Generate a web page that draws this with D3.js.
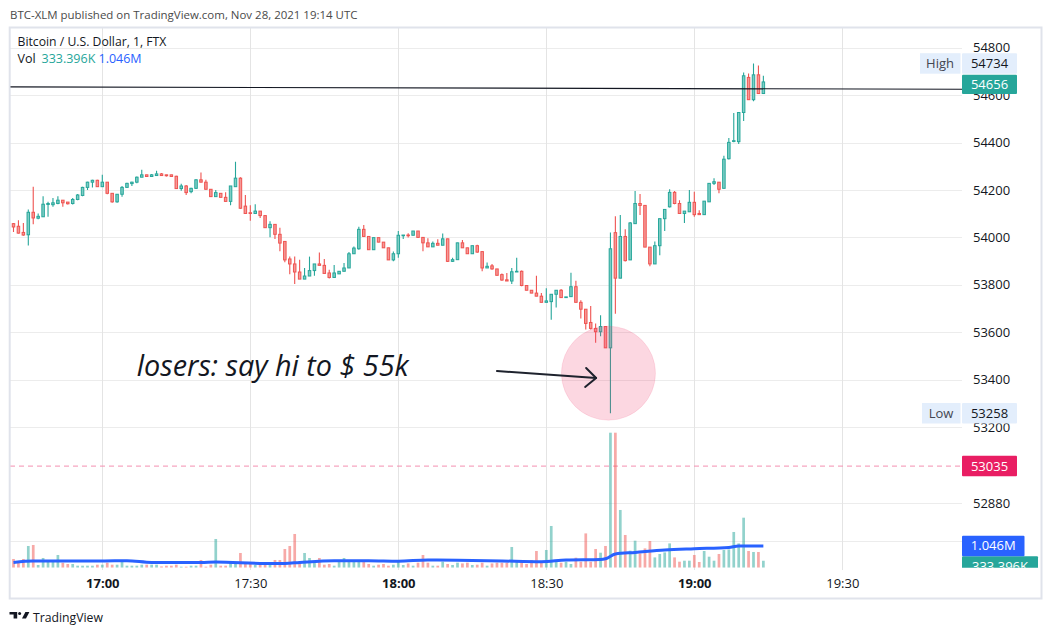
<!DOCTYPE html>
<html><head><meta charset="utf-8">
<script src="https://cdn.jsdelivr.net/npm/d3@7"></script>
<style>
body{margin:0;background:#fff;}
svg{display:block;font-family:"Open Sans",sans-serif;}
</style></head><body>
<svg id="c" width="1052" height="635"></svg>
<script>
// ---------- DATA ----------
const startTime = "2021-11-28T16:42:00Z"; // first 1-minute candle
const opens = [54058,54047,54021,54011,54106,54081,54087,54139,54138,54143, 54157,54149,54143,54160,54177,54211,54233,54241,54214,54233, 54186,54150,54182,54211,54227,54233,54254,54264,54257,54261, 54268,54264,54264,54258,54206,54217,54193,54207,54243,54233, 54203,54172,54186,54169,54152,54214,54250,54132,54104,54101, 54111,54092,54041,54055,54013,53983,53909,53888,53854,53824, 53837,53860,53888,53882,53850,53831,53846,53857,53871,53931, 53952,54034,54004,53948,53999,53980,53956,53905,53931,54007, 54010,54009,54027,54000,53977,53960,53975,53967,53994,53899, 53906,53977,53956,53931,53965,53940,53871,53880,53867,53843, 53821,53816,53854,53857,53797,53777,53765,53752,53726,53729, 53760,53777,53746,53750,53792,53726,53697,53641,53616,53602, 53624,53534,54020,53828,54004,53905,54058,54143,54135,53959, 53888,53965,54079,54129,54190,54143,54101,54108,54148,54101, 54096,54150,54228,54233,54207,54332,54405,54404,54527,54675, 54581,54686,54607];
const highs = [54061,54072,54061,54118,54214,54101,54174,54150,54166,54174, 54157,54149,54166,54183,54214,54235,54243,54243,54264,54233, 54186,54182,54217,54231,54235,54257,54285,54264,54268,54281, 54272,54264,54264,54260,54226,54221,54210,54245,54274,54243, 54203,54200,54186,54191,54217,54319,54254,54179,54136,54140, 54111,54092,54068,54055,54041,53983,53919,53919,53906,53871, 53919,53888,53936,53909,53864,53884,53857,53892,53938,53962, 54045,54052,54004,53999,53999,53980,53956,53941,54027,54010, 54018,54027,54027,54000,53996,53983,53992,54016,53994,53914, 53977,53989,53956,53965,53969,53940,53894,53888,53867,53848, 53850,53871,53914,53860,53797,53777,53838,53765,53785,53760, 53777,53782,53749,53851,53817,53735,53697,53711,53637,53672, 53624,54021,54089,54094,54034,54065,54196,54183,54135,53959, 53983,54079,54118,54203,54196,54157,54111,54200,54193,54115, 54153,54228,54250,54233,54345,54419,54525,54527,54696,54692, 54734,54725,54682];
const lows = [54023,54016,54007,53966,54055,54077,54087,54087,54129,54140, 54129,54139,54139,54157,54174,54200,54211,54214,54214,54182, 54146,54146,54172,54211,54217,54228,54254,54257,54257,54261, 54261,54257,54257,54206,54197,54179,54186,54204,54233,54203, 54172,54172,54169,54152,54136,54214,54121,54101,54070,54101, 54082,54041,54001,53993,53942,53895,53845,53803,53824,53824, 53837,53838,53882,53848,53827,53831,53846,53857,53871,53931, 53948,54004,53948,53948,53980,53956,53905,53899,53914,53993, 54000,54009,54000,53942,53960,53960,53967,53967,53896,53896, 53906,53956,53931,53931,53935,53857,53871,53863,53840,53817, 53816,53803,53854,53794,53777,53765,53752,53726,53726,53653, 53704,53746,53746,53750,53726,53658,53611,53611,53555,53583, 53534,53258,53678,53828,53898,53905,54058,54094,53959,53878, 53888,53925,54027,54126,54140,54101,54061,54108,54087,54096, 54096,54150,54221,54186,54207,54329,54402,54394,54491,54581, 54574,54607,54607];
const closes = [54044,54018,54010,54106,54082,54089,54140,54143,54146,54157, 54146,54142,54160,54179,54211,54233,54241,54214,54233,54186, 54150,54182,54211,54228,54233,54254,54264,54257,54264,54268, 54261,54260,54257,54206,54217,54189,54207,54243,54233,54203, 54172,54189,54169,54152,54217,54250,54123,54101,54101,54111, 54092,54041,54055,54013,53976,53905,53888,53854,53824,53837, 53860,53888,53882,53848,53831,53850,53857,53871,53931,53955, 54034,54004,53948,53999,53980,53956,53905,53931,54009,54010, 54007,54027,54000,53977,53960,53975,53967,53994,53899,53906, 53977,53956,53931,53965,53938,53871,53878,53867,53840,53820, 53816,53855,53857,53797,53777,53765,53752,53726,53732,53760, 53777,53746,53749,53792,53726,53697,53637,53616,53602,53624, 53534,53952,53828,54004,53902,54061,54143,54135,53959,53888, 53965,54079,54118,54190,54143,54101,54111,54148,54096,54096, 54153,54228,54235,54203,54330,54401,54408,54527,54682,54581, 54686,54607,54656];
// volume in thousands
const volumes = [418,288,418,1042,1090,130,466,370,288,610, 240,178,178,96,96,96,96,144,144,240, 144,144,288,96,96,96,144,144,144,144, 62,96,96,144,48,48,96,96,370,48, 144,1378,96,96,240,240,706,240,240,144, 144,144,144,370,370,898,1042,1618,288,706, 466,288,466,144,178,96,288,466,288,288, 288,288,178,96,144,178,96,144,288,130, 206,96,240,610,240,96,96,288,178,130, 240,206,240,130,144,240,96,206,240,240, 240,994,288,288,178,370,802,240,850,2002, 288,240,288,178,480,288,1646,288,898,720, 1042,6480,6480,2770,1570,816,1296,686,926,1282, 494,658,734,1166,494,288,336,336,610,274, 802,528,336,658,850,878,1714,1166,2400,802, 754,754,333.396];
// volume moving average: candle number -> value (K)
const volMAIdx = [1,5,12,19,24,29,39,42,52,56,59,66,73,79,85,91,100,108,113,120,121,123,127,133,139,146,148,153];
const volMAVal = [254,322,322,322,336,254,254,278,206,206,254,336,336,312,370,360,322,288,370,398,432,658,734,850,912,974,1042,1046];
const priceTicks = [54800,54600,54400,54200,54000,53800,53600,53400,53200,52880,52720];
const timeTicks = ["17:00","17:30","18:00","18:30","19:00","19:30"];
const alertPrice = 53035;
const hLine = [{t:"16:41", p:54635},{t:"19:55", p:54625}];
const note = {text:"losers: say hi to $ 55k", t:"17:07", p:53415};
const arrow = [{t:"18:20", p:53436},{t:"18:40:06", p:53407}];
const circ = {t:"18:42:36", p:53427};

// ---------- SETUP ----------
const svg = d3.select("#c");
const day = "2021-11-28T";
const toDate = s => new Date(day + (s.length === 5 ? s + ":00" : s) + "Z");
const t0 = new Date(startTime).getTime();
const data = opens.map((o,i)=>({t:new Date(t0+i*60000), o, h:highs[i], l:lows[i], c:closes[i], v:volumes[i]}));

const L = 10, R = 962, T = 28, B = 570;
const x = d3.scaleUtc().domain([toDate("17:00"), toDate("19:00")]).range([102.3, 694.3]);
const y = d3.scaleLinear().domain([53200, 54200]).range([427, 190]);
const yV = d3.scaleLinear().domain([0, 6480]).range([567.7, 432.7]);

const GREEN = "#26a69a", RED = "#ef5350";
const up = d => d.c >= d.o;

svg.append("rect").attr("width",1052).attr("height",635).attr("fill","#fff");

const defs = svg.append("defs");
defs.append("clipPath").attr("id","plot").append("rect").attr("x",L+0.5).attr("y",T).attr("width",R-L-0.5).attr("height",B-T-2.3);
defs.append("clipPath").attr("id","axis").append("rect").attr("x",R).attr("y",T).attr("width",1041-R).attr("height",567.7-T);

// header
function fit(sel, w){ const n = sel.node(); const cw = n.getComputedTextLength(); sel.attr("font-size", parseFloat(sel.attr("font-size"))*w/cw); return sel; }
fit(svg.append("text").attr("x",10).attr("y",19).attr("font-size",13).attr("fill","#4a4a4a")
  .text("BTC-XLM published on TradingView.com, Nov 28, 2021 19:14 UTC"), 348);

// grid
const g = svg.append("g");
g.selectAll(".hg").data(priceTicks).join("line")
  .attr("x1",L).attr("x2",R).attr("y1",d=>Math.round(y(d))+0.5).attr("y2",d=>Math.round(y(d))+0.5)
  .attr("stroke","#ececec").attr("stroke-width",1);
g.selectAll(".vg").data(timeTicks).join("line")
  .attr("x1",d=>Math.round(x(toDate(d)))+0.5).attr("x2",d=>Math.round(x(toDate(d)))+0.5).attr("y1",T).attr("y2",B)
  .attr("stroke","#e4e4e4").attr("stroke-width",1);

// frame
svg.append("rect").attr("x",9.7).attr("y",27.5).attr("width",1031.8).attr("height",571)
  .attr("fill","none").attr("stroke","#e0e3eb").attr("stroke-width",2);

const plot = svg.append("g").attr("clip-path","url(#plot)");

// alert dashed line
plot.append("line").attr("x1",L).attr("x2",R).attr("y1",y(alertPrice)).attr("y2",y(alertPrice))
  .attr("stroke","#f48fb1").attr("stroke-width",1).attr("stroke-dasharray","5,4");

// volume bars
plot.selectAll(".vb").data(data).join("rect")
  .attr("x",d=>x(d.t)-1.35).attr("width",2.7)
  .attr("y",d=>yV(d.v)).attr("height",d=>yV(0)-yV(d.v))
  .attr("fill",d=>up(d)?"rgba(38,166,154,0.5)":"rgba(239,83,80,0.5)");

// volume MA
const maPts = volMAIdx.map((k,i)=>({t:new Date(t0+(k-1)*60000), v:volMAVal[i]}));
plot.append("path").datum(maPts)
  .attr("d", d3.line().x(d=>x(d.t)).y(d=>yV(d.v)).curve(d3.curveMonotoneX))
  .attr("fill","none").attr("stroke","#2962ff").attr("stroke-width",3).attr("stroke-linejoin","round");

// candles
const cg = plot.append("g");
cg.selectAll(".wk").data(data).join("line")
  .attr("x1",d=>x(d.t)).attr("x2",d=>x(d.t)).attr("y1",d=>y(d.h)).attr("y2",d=>y(d.l))
  .attr("stroke",d=>up(d)?GREEN:RED).attr("stroke-width",1.1);
cg.selectAll(".bd").data(data).join("rect")
  .attr("x",d=>x(d.t)-1.25).attr("width",2.5)
  .attr("y",d=>y(Math.max(d.o,d.c))).attr("height",d=>Math.max(0.6, Math.abs(y(d.o)-y(d.c))))
  .attr("fill",d=>up(d)?"#7fcdc5":"#f59997").attr("stroke",d=>up(d)?GREEN:RED).attr("stroke-width",1);

// horizontal drawn line
plot.append("line").attr("x1",x(toDate(hLine[0].t))).attr("x2",x(toDate(hLine[1].t)))
  .attr("y1",y(hLine[0].p)).attr("y2",y(hLine[1].p)).attr("stroke","#131722").attr("stroke-width",1.2);

// circle
plot.append("circle").attr("cx",x(toDate(circ.t))).attr("cy",y(circ.p)).attr("r",47)
  .attr("fill","rgba(242,54,105,0.2)").attr("stroke","rgba(242,54,105,0.12)").attr("stroke-width",1);

// arrow
const a0 = [x(toDate(arrow[0].t)), y(arrow[0].p)], a1 = [x(toDate(arrow[1].t)), y(arrow[1].p)];
plot.append("line").attr("x1",a0[0]).attr("y1",a0[1]).attr("x2",a1[0]).attr("y2",a1[1])
  .attr("stroke","#1e222d").attr("stroke-width",2).attr("stroke-linecap","round");
plot.append("path").attr("d",`M${a1[0]-10},${a1[1]-10}L${a1[0]},${a1[1]}L${a1[0]-11},${a1[1]+9}`)
  .attr("fill","none").attr("stroke","#1e222d").attr("stroke-width",2).attr("stroke-linecap","round").attr("stroke-linejoin","round");

// note text
fit(plot.append("text").attr("x",x(toDate(note.t))).attr("y",y(note.p)).attr("font-size",26)
  .attr("font-style","italic").attr("fill","#131722").text(note.text), 272);

// legend
fit(svg.append("text").attr("x",17.5).attr("y",46).attr("font-size",13).attr("fill","#131722")
  .text("Bitcoin / U.S. Dollar, 1, FTX"), 149);
const lastVol = volumes[volumes.length-1], lastMA = volMAVal[volMAVal.length-1];
const volTxt = lastVol.toFixed(3)+"K", maTxt = (lastMA/1000).toFixed(3)+"M";
svg.append("text").attr("x",17.5).attr("y",63).attr("font-size",12.5).attr("fill","#131722").text("Vol");
svg.append("text").attr("x",41.5).attr("y",63).attr("font-size",12.5).attr("fill",GREEN).text(volTxt);
svg.append("text").attr("x",98.5).attr("y",63).attr("font-size",12.5).attr("fill","#2962ff").text(maTxt);

// price axis
const ya = svg.append("g").attr("transform",`translate(${R},0)`)
  .call(d3.axisRight(y).tickValues(priceTicks).tickSize(0).tickPadding(11).tickFormat(d3.format("d")));
ya.select(".domain").remove();
ya.selectAll("text").attr("font-size",13).attr("font-family","Open Sans").attr("fill","#131722");

// time axis
const xa = svg.append("g").attr("transform",`translate(0,579)`)
  .call(d3.axisBottom(x).tickValues(timeTicks.map(toDate)).tickSize(0).tickPadding(0).tickFormat(d3.utcFormat("%H:%M")));
xa.select(".domain").remove();
xa.selectAll("text").attr("font-size",13).attr("font-family","Open Sans").attr("fill","#131722")
  .attr("font-weight",d=>d.getUTCMinutes()===0?"bold":"normal");

// axis labels
const ax = svg.append("g").attr("clip-path","url(#axis)");
function box(x0, x1, cy, fill, txt, col, h=20.5){
  ax.append("rect").attr("x",x0).attr("y",cy-h/2).attr("width",x1-x0).attr("height",h).attr("fill",fill).attr("rx",1);
  ax.append("text").attr("x",(x0+x1)/2).attr("y",cy).attr("dy","0.35em").attr("text-anchor","middle")
    .attr("font-size",13).attr("fill",col).text(txt);
}
const hi = d3.max(highs), lo = d3.min(lows), last = closes[closes.length-1];
const hiY = y(hi);
const lbl = svg.append("g");
lbl.append("rect").attr("x",920).attr("y",hiY-10.25).attr("width",40.5).attr("height",20.5).attr("fill","#e3eefc");
lbl.append("text").attr("x",940).attr("y",hiY).attr("dy","0.35em").attr("text-anchor","middle").attr("font-size",13).attr("fill","#434651").text("High");
box(962, 1017, hiY, "#e3eefc", d3.format("d")(hi), "#131722");
const lastY = Math.max(y(last), hiY + 10.25 + 1 + 9.7);
box(962, 1017, lastY, GREEN, d3.format("d")(last), "#fff", 19.4);
const loY = y(lo);
lbl.append("rect").attr("x",922).attr("y",loY-10.25).attr("width",38.5).attr("height",20.5).attr("fill","#e3eefc");
lbl.append("text").attr("x",941).attr("y",loY).attr("dy","0.35em").attr("text-anchor","middle").attr("font-size",13).attr("fill","#434651").text("Low");
box(962, 1017, loY, "#e3eefc", d3.format("d")(lo), "#131722");
box(962, 1017, y(alertPrice), "#e91e63", d3.format("d")(alertPrice), "#fff");
const maY = yV(lastMA);
box(962, 1038, maY + 20.5, GREEN, volTxt, "#fff");
box(962, 1024.5, maY, "#2962ff", maTxt, "#fff");

// footer
const lg = svg.append("g").attr("fill","#131722");
lg.append("path").attr("d","M9.5,612 H17.2 V618.6 H13.6 V614.6 H9.5 Z");
lg.append("circle").attr("cx",19.6).attr("cy",613.4).attr("r",1.5);
lg.append("path").attr("d","M22,618.6 L25.4,612 H29.4 L26,618.6 Z");
fit(svg.append("text").attr("x",33).attr("y",621.7).attr("font-size",12.5).attr("fill","#131722").text("TradingView"), 70);
</script>
</body></html>
